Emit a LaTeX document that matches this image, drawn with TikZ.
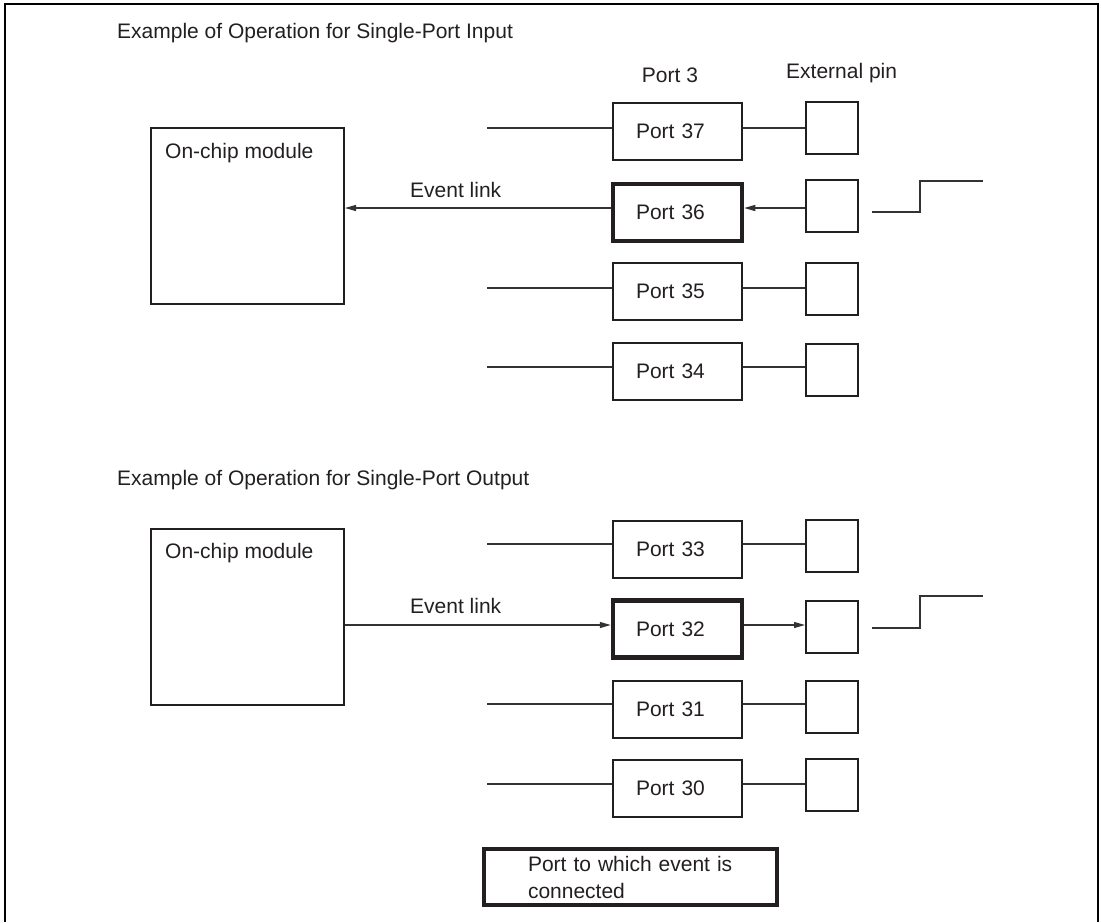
\documentclass[tikz,border=0pt]{standalone}
\usepackage{fontspec}
\setmainfont{Liberation Sans}
\usetikzlibrary{arrows.meta,calc}
\definecolor{ink}{HTML}{231F20}
\definecolor{ln}{HTML}{333333}
\tikzset{
  txt/.style={font=\fontsize{21}{27}\selectfont, text=ink, inner sep=0pt},
  modbox/.style={draw=ink, line width=2pt, minimum width=193pt, minimum height=176pt, inner sep=0pt},
  portbox/.style={draw=ink, line width=2pt, minimum width=129pt, minimum height=57pt, inner xsep=0pt, text width=83pt, align=left, font=\fontsize{21}{27}\selectfont, text=ink},
  portthick/.style={portbox, line width=4.5pt},
  pinbox/.style={draw=ink, line width=2pt, minimum width=52pt, minimum height=52pt, inner sep=0pt},
  wire/.style={draw=ln, line width=1.3pt},
  arr/.style={wire, -{Triangle[length=11pt,width=6pt]}},
  frame/.style={draw=black, line width=2.4pt},
}
\begin{document}
\begin{tikzpicture}[x=1pt,y=-1pt]
\useasboundingbox (0,0) rectangle (1101,922);
\draw[frame] (5,922) -- (5,4) -- (1098,4) -- (1098,922);

% ---------- Input example ----------
\node[txt, anchor=west] (t1) at (117,33) {Example of Operation for Single-Port Input};
\node[txt] (p3) at (670,75) {Port 3};
\node[txt, anchor=west] (ep) at (786,73) {External pin};

\node[modbox] (m1) at (247.5,216) {};
\node[txt, anchor=west] (m1t) at (165,153) {On-chip module};
\node[txt, anchor=west] (el1) at (410,190) {Event link};

\node[portbox]   (p37) at (677.5,131.5) {Port 37};
\node[portthick] (p36) at (677.5,212.5) {Port 36};
\node[portbox]   (p35) at (677.5,291) {Port 35};
\node[portbox]   (p34) at (677.5,371) {Port 34};

\node[pinbox] (q37) at (832,128) {};
\node[pinbox] (q36) at (832,206) {};
\node[pinbox] (q35) at (832,289) {};
\node[pinbox] (q34) at (832,370) {};

\coordinate (s37) at (487,128);
\coordinate (e36) at (344,208);
\coordinate (s35) at (487,288);
\coordinate (s34) at (487,367);

\draw[wire] (s37) -- (s37 -| p37.west);
\draw[wire] (p37.east |- s37) -- (s37 -| q37.west);
\draw[arr] (p36.west |- e36) -- (e36 -| m1.east);
\draw[arr] (q36.west |- e36) -- (e36 -| p36.east);
\draw[wire] (s35) -- (s35 -| p35.west);
\draw[wire] (p35.east |- s35) -- (s35 -| q35.west);
\draw[wire] (s34) -- (s34 -| p34.west);
\draw[wire] (p34.east |- s34) -- (s34 -| q34.west);

\coordinate (w1) at (872,212);
\draw[wire] (w1) -- ++(48,0) -- ++(0,-31) -- ++(63,0);

% ---------- Output example ----------
\node[txt, anchor=west] (t2) at (117,480) {Example of Operation for Single-Port Output};

\node[modbox] (m2) at (247.5,617) {};
\node[txt, anchor=west] (m2t) at (165,553) {On-chip module};
\node[txt, anchor=west] (el2) at (410,606) {Event link};

\node[portbox]   (p33) at (677.5,549.5) {Port 33};
\node[portthick] (p32) at (677.5,629) {Port 32};
\node[portbox]   (p31) at (677.5,709) {Port 31};
\node[portbox]   (p30) at (677.5,788.5) {Port 30};

\node[pinbox] (q33) at (832,546) {};
\node[pinbox] (q32) at (832,626.5) {};
\node[pinbox] (q31) at (832,707) {};
\node[pinbox] (q30) at (832,784.5) {};

\coordinate (s33) at (487,544);
\coordinate (e32) at (344,625);
\coordinate (s31) at (487,704);
\coordinate (s30) at (487,784);

\draw[wire] (s33) -- (s33 -| p33.west);
\draw[wire] (p33.east |- s33) -- (s33 -| q33.west);
\draw[arr] (e32 -| m2.east) -- (p32.west |- e32);
\draw[arr] (p32.east |- e32) -- (e32 -| q32.west);
\draw[wire] (s31) -- (s31 -| p31.west);
\draw[wire] (p31.east |- s31) -- (s31 -| q31.west);
\draw[wire] (s30) -- (s30 -| p30.west);
\draw[wire] (p30.east |- s30) -- (s30 -| q30.west);

\coordinate (w2) at (872,628);
\draw[wire] (w2) -- ++(48,0) -- ++(0,-32) -- ++(63,0);

% ---------- Legend ----------
\node[draw=ink, line width=4.5pt, minimum width=293pt, minimum height=56pt, inner ysep=0pt, inner xsep=0pt,
      text width=205pt, align=left, font=\fontsize{21}{27}\selectfont, text=ink] (lg) at (630.5,877)
  {Port to which event is\\connected};
\end{tikzpicture}
\end{document}
